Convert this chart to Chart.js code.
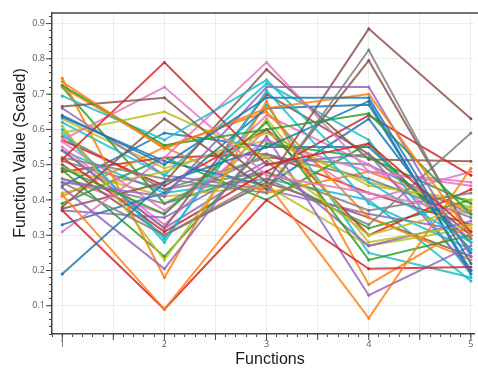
<!DOCTYPE html>
<html lang="en">
  <head>
    <meta charset="UTF-8" />
    <title>Parallel coordinates</title>
    <script src="https://cdn.jsdelivr.net/npm/chart.js"></script>
    <style>
      html, body { margin: 0; padding: 0; background: #fff; overflow: hidden; }
      canvas { display: block; }
    </style>
  </head>
  <body>
    <canvas id="chart" width="478" height="369"></canvas>
    <script>
      const functions = [1, 2, 3, 4, 5];
      // one value per solution for each function
      const f1 = [0.64, 0.735, 0.725, 0.515, 0.45, 0.665, 0.57, 0.52, 0.59, 0.695,
        0.19, 0.415, 0.49, 0.37, 0.435, 0.38, 0.31, 0.45, 0.61, 0.6,
        0.33, 0.745, 0.485, 0.52, 0.54, 0.375, 0.565, 0.51, 0.42, 0.62,
        0.635, 0.72, 0.39, 0.57, 0.37, 0.54, 0.55, 0.46, 0.49, 0.59,
        0.44, 0.41, 0.72, 0.48, 0.66, 0.5, 0.46, 0.58, 0.63, 0.54];
      const f2 = [0.5, 0.545, 0.555, 0.79, 0.41, 0.69, 0.72, 0.46, 0.65, 0.57,
        0.45, 0.09, 0.36, 0.09, 0.205, 0.63, 0.52, 0.3, 0.23, 0.28,
        0.42, 0.18, 0.24, 0.31, 0.32, 0.45, 0.37, 0.43, 0.48, 0.47,
        0.51, 0.55, 0.52, 0.44, 0.35, 0.32, 0.33, 0.39, 0.41, 0.29,
        0.59, 0.55, 0.39, 0.52, 0.47, 0.3, 0.36, 0.43, 0.49, 0.42];
      const f3 = [0.69, 0.66, 0.6, 0.5, 0.72, 0.45, 0.47, 0.42, 0.52, 0.74,
        0.55, 0.45, 0.62, 0.4, 0.58, 0.43, 0.79, 0.46, 0.63, 0.71,
        0.66, 0.68, 0.56, 0.48, 0.5, 0.77, 0.57, 0.48, 0.59, 0.73,
        0.44, 0.65, 0.4, 0.6, 0.51, 0.7, 0.6, 0.53, 0.44, 0.67,
        0.55, 0.42, 0.48, 0.53, 0.43, 0.45, 0.64, 0.52, 0.57, 0.46];
      const f4 = [0.69, 0.7, 0.645, 0.56, 0.72, 0.885, 0.42, 0.825, 0.3, 0.45,
        0.68, 0.065, 0.23, 0.205, 0.13, 0.795, 0.48, 0.33, 0.28, 0.39,
        0.67, 0.16, 0.52, 0.64, 0.53, 0.515, 0.48, 0.37, 0.44, 0.57,
        0.63, 0.35, 0.56, 0.3, 0.27, 0.53, 0.4, 0.46, 0.27, 0.25,
        0.55, 0.48, 0.32, 0.42, 0.36, 0.35, 0.5, 0.5, 0.45, 0.4];
      const f5 = [0.22, 0.3, 0.36, 0.31, 0.24, 0.63, 0.36, 0.29, 0.38, 0.28,
        0.19, 0.49, 0.3, 0.21, 0.27, 0.3, 0.44, 0.59, 0.33, 0.26,
        0.2, 0.33, 0.39, 0.47, 0.2, 0.51, 0.45, 0.42, 0.4, 0.19,
        0.25, 0.23, 0.26, 0.43, 0.34, 0.3, 0.48, 0.35, 0.32, 0.18,
        0.28, 0.37, 0.4, 0.33, 0.31, 0.24, 0.29, 0.36, 0.38, 0.17];
      const palette = ["#1f77b4", "#ff7f0e", "#2ca02c", "#d62728", "#9467bd",
        "#8c564b", "#e377c2", "#7f7f7f", "#bcbd22", "#17becf"];

      const columns = [f1, f2, f3, f4, f5];
      const datasets = f1.map((_, i) => {
        const c = palette[i % palette.length];
        return {
          data: columns.map((col, k) => ({ x: functions[k], y: col[i] })),
          borderColor: c + "d8",
          backgroundColor: c,
          borderWidth: 2,
          pointRadius: 1.5,
          pointBorderWidth: 0,
          tension: 0,
        };
      });

      const onStep = (v, step) => Math.abs(v / step - Math.round(v / step)) < 1e-6;

      // axis frame, longer major ticks and the two axis titles
      const frame = {
        id: "frame",
        afterDraw(chart) {
          const { ctx, chartArea: a, scales } = chart;
          ctx.save();
          ctx.strokeStyle = "#444";
          ctx.lineWidth = 1.5;
          ctx.beginPath();
          ctx.moveTo(a.left, a.top);
          ctx.lineTo(chart.width, a.top);
          ctx.stroke();
          ctx.lineWidth = 1;
          ctx.beginPath();
          for (const t of scales.y.ticks) {
            if (!onStep(t.value, 0.1)) continue;
            const py = scales.y.getPixelForValue(t.value);
            ctx.moveTo(a.left - 6, py);
            ctx.lineTo(a.left, py);
          }
          for (const t of scales.x.ticks) {
            if (!onStep(t.value, 0.5)) continue;
            const px = scales.x.getPixelForValue(t.value);
            ctx.moveTo(px, a.bottom);
            ctx.lineTo(px, a.bottom + 6);
          }
          ctx.stroke();
          ctx.fillStyle = "#1a1a1a";
          ctx.font = "16px 'Liberation Sans', Arial, sans-serif";
          ctx.textAlign = "center";
          ctx.textBaseline = "middle";
          ctx.fillText("Functions", 270, 360);
          ctx.translate(21, 153);
          ctx.rotate(-Math.PI / 2);
          ctx.fillText("Function Value (Scaled)", 0, 0);
          ctx.restore();
        },
      };

      new Chart(document.getElementById("chart"), {
        type: "line",
        data: { datasets },
        options: {
          responsive: false,
          animation: false,
          devicePixelRatio: 1,
          layout: { padding: { top: 13, right: 0, left: 0, bottom: 0 } },
          plugins: { legend: { display: false }, tooltip: { enabled: false } },
          scales: {
            x: {
              type: "linear",
              min: 0.9,
              max: 5.03,
              afterFit: (s) => {
                s.height = 35;
                s.paddingLeft = 0;
                s.paddingRight = 0;
              },
              border: { color: "#444", width: 1.5 },
              grid: {
                color: (c) => (c.tick && onStep(c.tick.value, 0.5) ? "#ececec" : "rgba(0,0,0,0)"),
                tickColor: "#444",
                tickLength: 3,
              },
              ticks: {
                stepSize: 0.1,
                includeBounds: false,
                autoSkip: false,
                maxRotation: 0,
                padding: 2,
                color: "#555",
                font: { size: 9, family: "'Segoe UI', 'Open Sans', sans-serif" },
                callback: (v) => (onStep(v, 1) ? String(Math.round(v)) : ""),
              },
            },
            y: {
              min: 0.02,
              max: 0.93,
              afterFit: (s) => {
                s.width = 52;
                s.paddingTop = 0;
                s.paddingBottom = 0;
              },
              border: { color: "#444", width: 1.5 },
              grid: {
                color: (c) => (c.tick && onStep(c.tick.value, 0.1) ? "#ececec" : "rgba(0,0,0,0)"),
                tickColor: "#444",
                tickLength: 3,
              },
              ticks: {
                stepSize: 0.02,
                includeBounds: false,
                autoSkip: false,
                padding: 4,
                color: "#555",
                font: { size: 9, family: "'Segoe UI', 'Open Sans', sans-serif" },
                callback: (v) => (onStep(v, 0.1) ? v.toFixed(1) : ""),
              },
            },
          },
        },
        plugins: [frame],
      });
    </script>
  </body>
</html>
